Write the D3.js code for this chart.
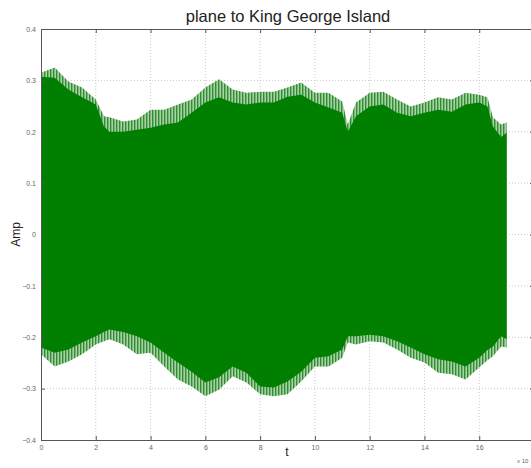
<!DOCTYPE html>
<html>
<head>
<meta charset="utf-8">
<script src="https://cdn.jsdelivr.net/npm/d3@7"></script>
<style>
  body { margin: 0; background: #fff; }
  svg { display: block; font-family: "Liberation Sans", Arial, sans-serif; }
</style>
</head>
<body>
<figure id="wave" style="margin:0"></figure>
<script>
// envelope of the recording (t in units of 1e5 samples)
const tVals     = [0, 0.5, 1, 1.5, 2, 2.3, 2.5, 3, 3.5, 4, 4.5, 5, 5.5, 6, 6.5, 7, 7.5, 8, 8.5, 9, 9.5, 10, 10.5, 11, 11.2, 11.5, 12, 12.5, 13, 13.5, 14, 14.5, 15, 15.5, 16, 16.3, 16.5, 16.8, 17];
const upperBody = [0.307, 0.305, 0.282, 0.267, 0.253, 0.21, 0.2, 0.2, 0.204, 0.208, 0.214, 0.218, 0.237, 0.257, 0.267, 0.257, 0.253, 0.257, 0.257, 0.268, 0.272, 0.257, 0.247, 0.237, 0.2, 0.23, 0.249, 0.253, 0.237, 0.23, 0.237, 0.243, 0.239, 0.253, 0.257, 0.249, 0.21, 0.19, 0.198];
const upperPeak = [0.315, 0.325, 0.298, 0.286, 0.263, 0.23, 0.228, 0.22, 0.224, 0.243, 0.243, 0.253, 0.263, 0.286, 0.302, 0.282, 0.276, 0.278, 0.278, 0.286, 0.296, 0.276, 0.276, 0.259, 0.214, 0.257, 0.276, 0.278, 0.263, 0.249, 0.257, 0.267, 0.263, 0.276, 0.272, 0.267, 0.228, 0.214, 0.218];
const lowerBody = [-0.22, -0.23, -0.224, -0.21, -0.198, -0.19, -0.185, -0.19, -0.198, -0.21, -0.23, -0.249, -0.267, -0.288, -0.278, -0.257, -0.269, -0.296, -0.298, -0.286, -0.267, -0.24, -0.237, -0.224, -0.198, -0.198, -0.195, -0.198, -0.208, -0.22, -0.233, -0.243, -0.247, -0.257, -0.24, -0.225, -0.218, -0.198, -0.204];
const lowerPeak = [-0.233, -0.257, -0.247, -0.233, -0.214, -0.208, -0.204, -0.214, -0.233, -0.23, -0.257, -0.282, -0.296, -0.315, -0.302, -0.276, -0.288, -0.311, -0.315, -0.311, -0.286, -0.257, -0.257, -0.24, -0.21, -0.214, -0.208, -0.21, -0.224, -0.24, -0.249, -0.269, -0.272, -0.282, -0.259, -0.245, -0.237, -0.218, -0.22];

const xTicks = [0, 2, 4, 6, 8, 10, 12, 14, 16, 18];
const yTicks = [-0.4, -0.3, -0.2, -0.1, 0, 0.1, 0.2, 0.3, 0.4];

const W = 531, H = 468;
const margin = { top: 29, left: 41 };
const plotW = 493;
const plotH = 411;

const svg = d3.select("figure#wave")
  .append("svg")
  .attr("width", W)
  .attr("height", H);

// thin vertical strokes to fake the spiky edge of the waveform
const pat = svg.append("defs").append("pattern")
  .attr("id", "spikes")
  .attr("patternUnits", "userSpaceOnUse")
  .attr("width", 3).attr("height", 6);
pat.append("rect").attr("width", 3).attr("height", 6).attr("fill", "#a9d0a9");
pat.append("rect").attr("width", 1.4).attr("height", 6).attr("fill", "#2f8f2f");

const g = svg.append("g")
  .attr("transform", "translate(" + margin.left + "," + margin.top + ")");

const x = d3.scaleLinear().domain([0, 18]).range([0, plotW]);
const y = d3.scaleLinear().domain([-0.4, 0.4]).range([plotH, 0]);

// grid
g.append("g")
  .selectAll("line")
  .data(xTicks.slice(1))
  .enter().append("line")
  .attr("x1", d => x(d)).attr("x2", d => x(d))
  .attr("y1", 0).attr("y2", plotH)
  .attr("stroke", "#bbb").attr("stroke-width", 0.8)
  .attr("stroke-dasharray", "1,2");

g.append("g")
  .selectAll("line")
  .data(yTicks.slice(1, -1))
  .enter().append("line")
  .attr("x1", 0).attr("x2", plotW)
  .attr("y1", d => y(d)).attr("y2", d => y(d))
  .attr("stroke", "#bbb").attr("stroke-width", 0.8)
  .attr("stroke-dasharray", "1,2");

const idx = d3.range(tVals.length);

// spiky outer part of the waveform
const peakArea = d3.area()
  .x(i => x(tVals[i]))
  .y0(i => y(lowerPeak[i]))
  .y1(i => y(upperPeak[i]));

g.append("path")
  .datum(idx)
  .attr("d", peakArea)
  .attr("fill", "url(#spikes)");

// solid body of the waveform
const bodyArea = d3.area()
  .x(i => x(tVals[i]))
  .y0(i => y(lowerBody[i]))
  .y1(i => y(upperBody[i]));

g.append("path")
  .datum(idx)
  .attr("d", bodyArea)
  .attr("fill", "#007f00");

// axes, MATLAB style ticks pointing inward
const xAxis = d3.axisBottom(x).tickValues(xTicks).tickSize(-4).tickPadding(5)
  .tickFormat(d => d === 18 ? "" : d3.format("d")(d));
const yAxis = d3.axisLeft(y).tickValues(yTicks).tickSize(-4).tickPadding(5)
  .tickFormat(d => d === 0 ? "0" : d3.format(".1f")(d));

g.append("g")
  .attr("transform", "translate(0," + plotH + ")")
  .call(xAxis);
g.append("g").call(yAxis);

g.append("g").call(d3.axisTop(x).tickValues(xTicks).tickSize(-4).tickFormat(""));
g.append("g").attr("transform", "translate(" + plotW + ",0)")
  .call(d3.axisRight(y).tickValues(yTicks).tickSize(-4).tickFormat(""));

g.selectAll(".domain").attr("stroke", "#555");
g.selectAll(".tick line").attr("stroke", "#555");
g.selectAll(".tick text")
  .attr("fill", "#666")
  .style("font-size", "7px");

// labels
svg.append("text")
  .attr("x", 288)
  .attr("y", 22)
  .attr("text-anchor", "middle")
  .style("font-size", "16.5px")
  .attr("fill", "#222")
  .text("plane to King George Island");

svg.append("text")
  .attr("transform", "translate(20," + (margin.top + plotH / 2) + ")rotate(-90)")
  .attr("text-anchor", "middle")
  .style("font-size", "12px")
  .attr("fill", "#222")
  .text("Amp");

svg.append("text")
  .attr("x", 287)
  .attr("y", 456)
  .attr("text-anchor", "middle")
  .style("font-size", "12px")
  .attr("fill", "#222")
  .text("t");

svg.append("text")
  .attr("x", 517)
  .attr("y", 463)
  .style("font-size", "6px")
  .attr("fill", "#666")
  .text("x 10");
</script>
</body>
</html>
